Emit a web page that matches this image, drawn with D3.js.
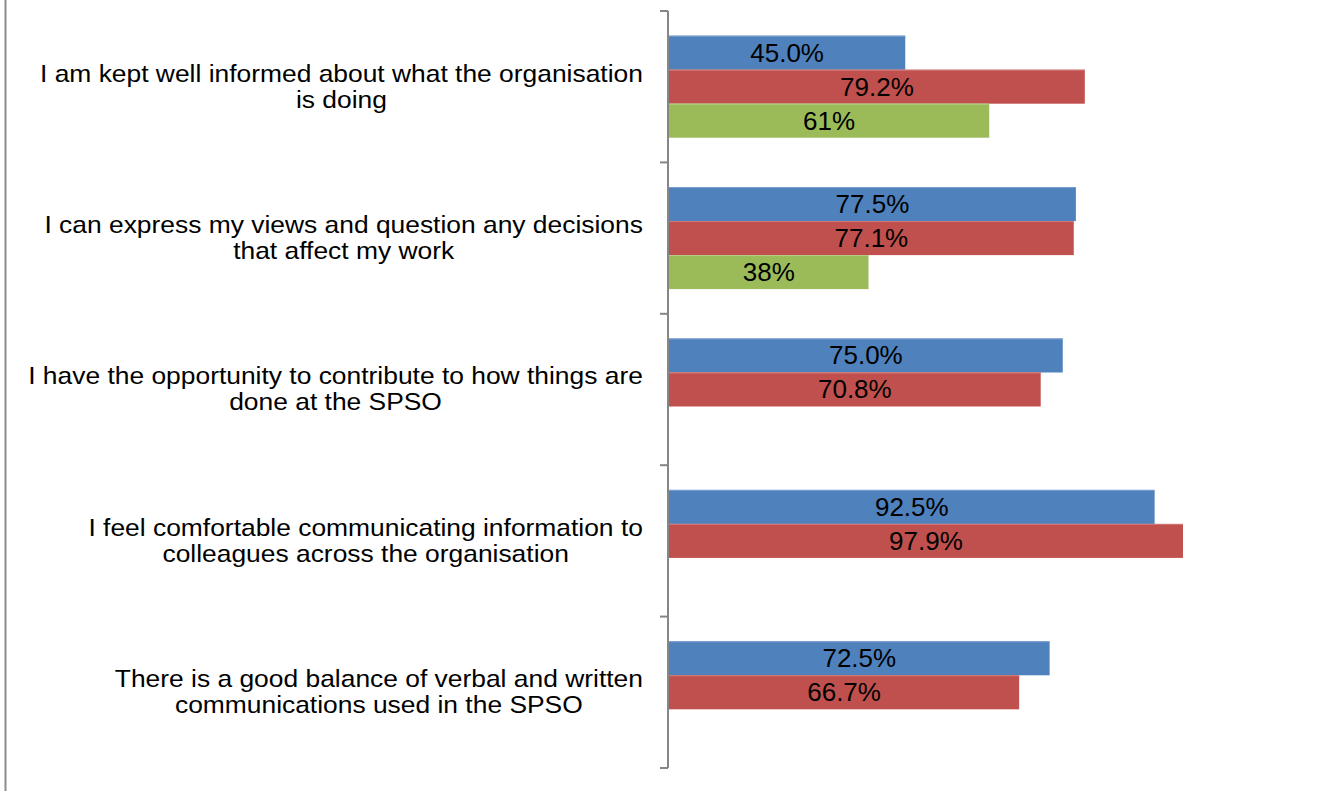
<!DOCTYPE html>
<html>
<head>
<meta charset="utf-8">
<script src="https://cdn.jsdelivr.net/npm/d3@7"></script>
<style>
  body { margin: 0; background: #fff; }
  text { font-family: "Liberation Sans", Arial, sans-serif; fill: #000; }
</style>
</head>
<body>
<script>
// category labels, line breaks as in the original chart
const categories = [
  'I am kept well informed about what the organisation\nis doing',
  'I can express my views and question any decisions\nthat affect my work',
  'I have the opportunity to contribute to how things are\ndone at the SPSO',
  'I feel comfortable communicating information to\ncolleagues across the organisation',
  'There is a good balance of verbal and written\ncommunications used in the SPSO'
]
const seriesNames = ['s1', 's2', 's3']
const blueValues = [45.0, 77.5, 75.0, 92.5, 72.5]
const redValues = [79.2, 77.1, 70.8, 97.9, 66.7]
const greenValues = [61, 38, null, null, null]
const seriesDecimals = [1, 1, 0]

const colors = ['#4f81bd', '#c0504d', '#9bbb59']
const borders = ['#7a9fd0', '#d27a78', '#b5cf85']

let width = 1327
let height = 791

const svg = d3.select('body').append('svg').attr('width', width).attr('height', height)

// outer frame line on the left
svg.append('line')
  .attr('x1', 5.5).attr('x2', 5.5).attr('y1', 0).attr('y2', height)
  .attr('stroke', '#8c8c8c').attr('stroke-width', 2)

const y = d3.scaleBand().domain(categories).range([11, 768]).padding(0)
const ySub = d3.scaleBand().domain(seriesNames).range([0, y.bandwidth()]).paddingInner(0).paddingOuter(0.726)
const x = d3.scaleLinear().domain([0, 100]).range([669, 1194])

const allSeries = [blueValues, redValues, greenValues]

const groups = svg.selectAll('g.cat')
  .data(categories)
  .enter()
  .append('g')
  .attr('class', 'cat')
  .attr('transform', d => `translate(0,${y(d)})`)

groups.each(function(cat, ci) {
  const g = d3.select(this)
  allSeries.forEach((vals, si) => {
    const v = vals[ci]
    if (v == null) return
    const y0 = ySub(seriesNames[si])
    g.append('rect')
      .attr('x', x(0))
      .attr('y', y0)
      .attr('width', x(v) - x(0))
      .attr('height', ySub.bandwidth())
      .attr('fill', colors[si])
    g.append('line')
      .attr('x1', x(0)).attr('x2', x(v))
      .attr('y1', y0 + 0.5).attr('y2', y0 + 0.5)
      .attr('stroke', borders[si]).attr('stroke-width', 1)
    g.append('text')
      .attr('x', (x(0) + x(v)) / 2)
      .attr('y', y0 + ySub.bandwidth() / 2 + 9)
      .attr('text-anchor', 'middle')
      .attr('font-size', 26)
      .text(v.toFixed(seriesDecimals[si]) + '%')
  })

  // category label, lines centred in a block that ends at the axis
  const lines = cat.split('\n')
  const lineH = 26
  const mid = y.bandwidth() / 2
  const lbl = g.append('text').attr('font-size', 24).attr('text-anchor', 'middle')
  const spans = lines.map((ln, li) => lbl.append('tspan')
    .attr('y', mid + 8 - (lines.length - 1) * lineH / 2 + li * lineH)
    .text(ln))
  const maxW = d3.max(spans, s => s.node().getComputedTextLength())
  const cx = 643 - maxW * 1.1 / 2
  lbl.attr('transform', `translate(${cx},0) scale(1.1,1)`)
  spans.forEach(s => s.attr('x', 0))
})

// value axis with ticks between the categories
const ax = svg.append('g').attr('stroke', '#868686').attr('stroke-width', 2)
ax.append('line')
  .attr('x1', 668).attr('x2', 668)
  .attr('y1', y.range()[0]).attr('y2', y.range()[1])
const tickYs = categories.map(c => y(c)).concat([y.range()[1]])
ax.selectAll('line.tick')
  .data(tickYs)
  .enter()
  .append('line')
  .attr('class', 'tick')
  .attr('x1', 660).attr('x2', 668)
  .attr('y1', d => d).attr('y2', d => d)
</script>
</body>
</html>
